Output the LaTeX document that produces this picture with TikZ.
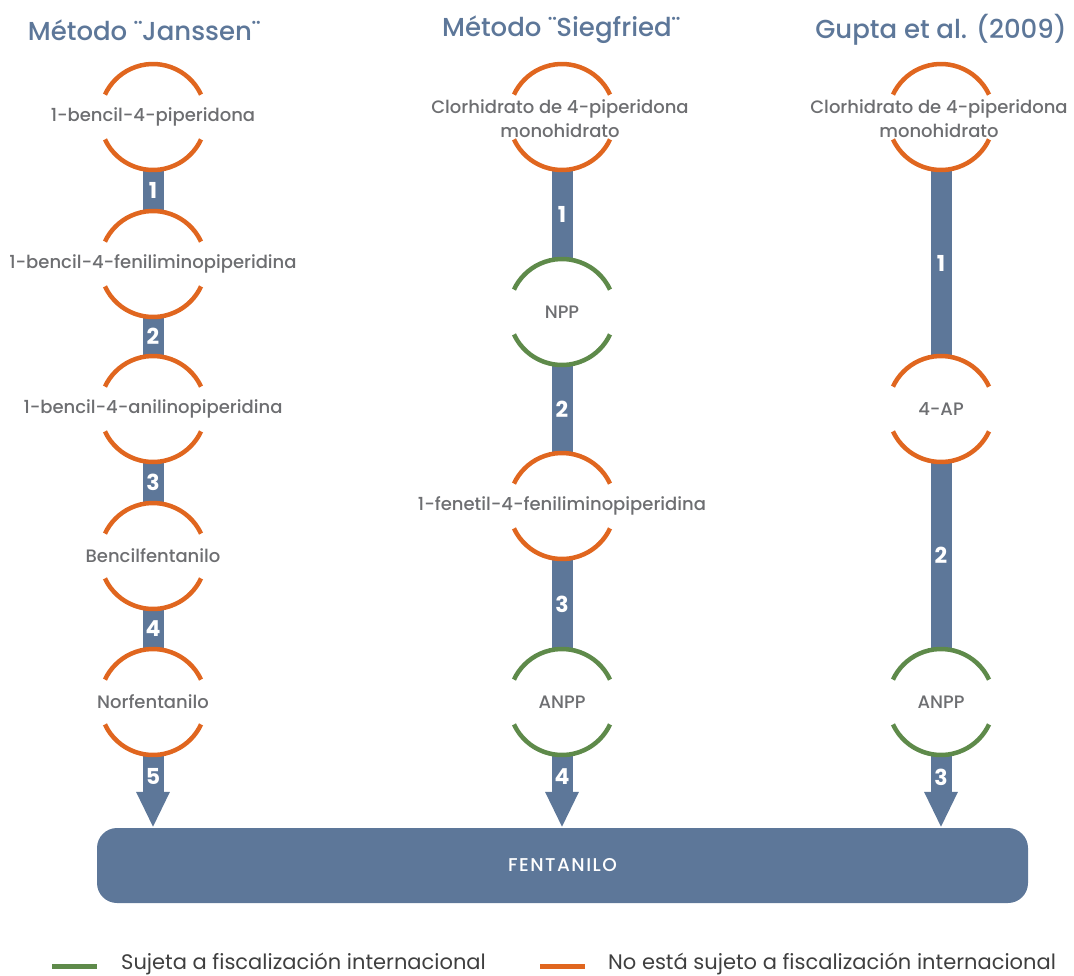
\documentclass[tikz,border=0pt]{standalone}
\usepackage{fontspec}
\setmainfont{Poppins}
\newfontfamily\medfont{Poppins Medium}
\newfontfamily\medspaced[LetterSpace=8]{Poppins Medium}
\usetikzlibrary{arrows.meta}
\definecolor{cor}{HTML}{E0661F}
\definecolor{cgr}{HTML}{5E8A4A}
\definecolor{cbl}{HTML}{5D7799}
\definecolor{ctx}{HTML}{6D6E71}
\definecolor{cleg}{HTML}{3F3F3F}
\newcommand\ringarcs[2]{%
  \draw[#2, line width=4.5pt] (#1.25) arc[start angle=25,end angle=155,radius=53pt];
  \draw[#2, line width=4.5pt] (#1.205) arc[start angle=205,end angle=335,radius=53pt];}
\begin{document}
\begin{tikzpicture}[x=1pt,y=-1pt,
  ring/.style={circle, minimum size=106pt, inner sep=0pt, outer sep=0pt},
  lbl/.style={text=ctx, font=\medfont\fontsize{18}{24}\selectfont, align=center, inner sep=0pt},
  bar/.style={draw=cbl, line width=21pt},
  arr/.style={draw=cbl, line width=21pt, -{Triangle[width=31pt,length=36pt]}},
  num/.style={text=white, font=\fontsize{22}{22}\selectfont\bfseries, inner sep=0pt},
  ttl/.style={text=cbl, font=\medfont\fontsize{26}{26}\selectfont, inner sep=0pt},
  leg/.style={text=cleg, font=\fontsize{21}{21}\selectfont, anchor=west, inner sep=0pt}]
\useasboundingbox (0,0) rectangle (1074,975);
% titles
\node[ttl] (tJ) at (144,30) {Método ¨Janssen¨};
\node[ttl] (tS) at (561,30) {Método ¨Siegfried¨};
\node[ttl] (tG) at (941,30) {Gupta et al. (2009)};
% rings
\node[ring] (J1) at (153,117) {};
\node[ring] (J2) at (153,264) {};
\node[ring] (J3) at (153,409) {};
\node[ring] (J4) at (153,556) {};
\node[ring] (J5) at (153,702) {};
\node[ring] (S1) at (562,117) {};
\node[ring] (S2) at (562,312) {};
\node[ring] (S3) at (562,506) {};
\node[ring] (S4) at (562,702) {};
\node[ring] (G1) at (941,117) {};
\node[ring] (G2) at (941,409) {};
\node[ring] (G3) at (941,702) {};
% final box
\node[fill=cbl, rounded corners=20pt, minimum width=931pt, minimum height=75pt, text=white,
  font=\medspaced\fontsize{18.5}{18.5}\selectfont] (fen) at (562.5,865.5) {FENTANILO};
% bars
\draw[bar] (J1.south) -- node[num]{1} (J2.north);
\draw[bar] (J2.south) -- node[num]{2} (J3.north);
\draw[bar] (J3.south) -- node[num]{3} (J4.north);
\draw[bar] (J4.south) -- node[num]{4} (J5.north);
\draw[arr] (J5.south) -- node[num, pos=0.3]{5} (J5.south |- fen.north);
\draw[bar] (S1.south) -- node[num]{1} (S2.north);
\draw[bar] (S2.south) -- node[num]{2} (S3.north);
\draw[bar] (S3.south) -- node[num]{3} (S4.north);
\draw[arr] (S4.south) -- node[num, pos=0.3]{4} (S4.south |- fen.north);
\draw[bar] (G1.south) -- node[num]{1} (G2.north);
\draw[bar] (G2.south) -- node[num]{2} (G3.north);
\draw[arr] (G3.south) -- node[num, pos=0.3]{3} (G3.south |- fen.north);
% arcs
\ringarcs{J1}{cor}\ringarcs{J2}{cor}\ringarcs{J3}{cor}\ringarcs{J4}{cor}\ringarcs{J5}{cor}
\ringarcs{S1}{cor}\ringarcs{S2}{cgr}\ringarcs{S3}{cor}\ringarcs{S4}{cgr}
\ringarcs{G1}{cor}\ringarcs{G2}{cor}\ringarcs{G3}{cgr}
% labels
\node[lbl] (lJ1) at (J1) {1-bencil-4-piperidona};
\node[lbl] (lJ2) at (J2) {1-bencil-4-feniliminopiperidina};
\node[lbl] (lJ3) at (J3) {1-bencil-4-anilinopiperidina};
\node[lbl] (lJ4) at (J4) {Bencilfentanilo};
\node[lbl] (lJ5) at (J5) {Norfentanilo};
\node[lbl] (lS1) at (560,119) {Clorhidrato de 4-piperidona\\monohidrato};
\node[lbl] (lS2) at (S2) {NPP};
\node[lbl] (lS3) at (S3) {1-fenetil-4-feniliminopiperidina};
\node[lbl] (lS4) at (S4) {ANPP};
\node[lbl] (lG1) at (939,119) {Clorhidrato de 4-piperidona\\monohidrato};
\node[lbl] (lG2) at (G2) {4-AP};
\node[lbl] (lG3) at (G3) {ANPP};
% legend
\coordinate (g1) at (52,966); \coordinate (g2) at (97,966);
\coordinate (o1) at (540,966); \coordinate (o2) at (585,966);
\draw[cgr, line width=5pt] (g1) -- (g2);
\draw[cor, line width=5pt] (o1) -- (o2);
\node[leg] (lg) at (121,964) {Sujeta a fiscalización internacional};
\node[leg] (lo) at (608,964) {No está sujeto a fiscalización internacional};
\end{tikzpicture}
\end{document}
